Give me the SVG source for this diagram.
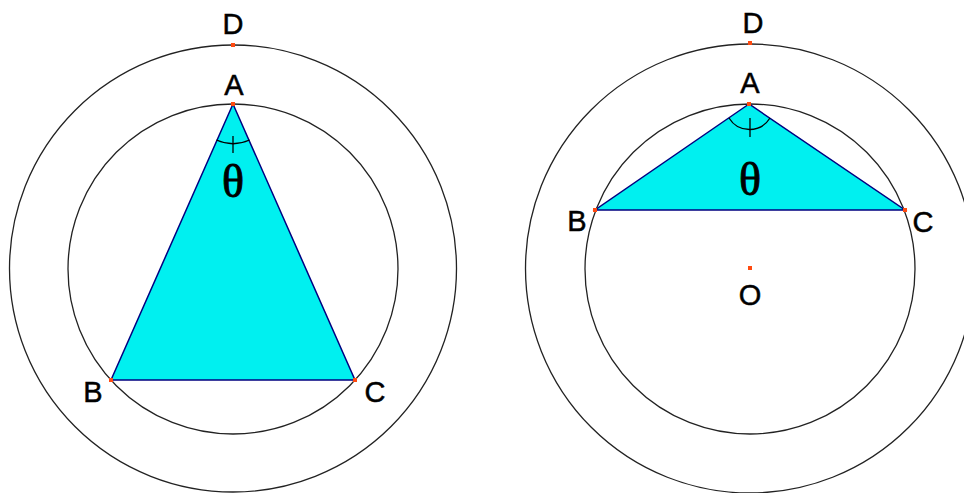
<svg xmlns="http://www.w3.org/2000/svg" width="964" height="493" viewBox="0 0 964 493">
<style>
.circ{fill:none;stroke:#222;stroke-width:1.3}
.tri{fill:#00F0F0;stroke:#000080;stroke-width:1.5;stroke-linejoin:miter}
.pt{fill:#FF4A10}
.lbl{font-family:"Liberation Sans",Arial,sans-serif;font-size:29px;fill:#000;stroke:#000;stroke-width:0.5;text-anchor:middle}
.th{font-family:"Liberation Serif","Times New Roman",serif;font-size:46px;fill:#000;stroke:#000;stroke-width:0.9;text-anchor:middle}
.ang{fill:none;stroke:#000;stroke-width:1.3}
</style>
<rect width="964" height="493" fill="#fff"/>
<g id="left-figure">
  <circle class="circ" cx="233" cy="268.5" r="223.5"/>
  <circle class="circ" cx="233" cy="269" r="165"/>
  <polygon class="tri" points="233,104 111,380 355,380"/>
  <path class="ang" d="M216.5,140 A40,40 0 0 0 249.5,140"/>
  <line class="ang" x1="233" y1="136" x2="233" y2="153"/>
  <rect class="pt" x="231" y="43" width="4" height="4"/>
  <rect class="pt" x="231" y="102" width="4" height="4"/>
  <rect class="pt" x="109" y="378" width="4" height="4"/>
  <rect class="pt" x="353" y="378" width="4" height="4"/>
  <text class="lbl" x="233" y="34">D</text>
  <text class="lbl" x="234" y="95">A</text>
  <text class="lbl" x="93" y="402">B</text>
  <text class="lbl" x="375" y="402">C</text>
  <text class="th" x="233" y="197">θ</text>
</g>
<g id="right-figure">
  <circle class="circ" cx="750" cy="268.5" r="224.5"/>
  <circle class="circ" cx="750" cy="269" r="165"/>
  <polygon class="tri" points="749,104 595,210 905,210"/>
  <path class="ang" d="M729,118 A24,24 0 0 0 770,118"/>
  <line class="ang" x1="750" y1="118" x2="750" y2="137"/>
  <rect class="pt" x="748" y="41" width="4" height="4"/>
  <rect class="pt" x="747" y="102" width="4" height="4"/>
  <rect class="pt" x="593" y="208" width="4" height="4"/>
  <rect class="pt" x="903" y="208" width="4" height="4"/>
  <rect class="pt" x="748" y="266" width="4" height="4"/>
  <text class="lbl" x="753" y="33">D</text>
  <text class="lbl" x="750" y="93">A</text>
  <text class="lbl" x="577" y="231">B</text>
  <text class="lbl" x="923" y="232">C</text>
  <text class="lbl" x="750" y="305">O</text>
  <text class="th" x="750" y="195">θ</text>
</g>
</svg>
